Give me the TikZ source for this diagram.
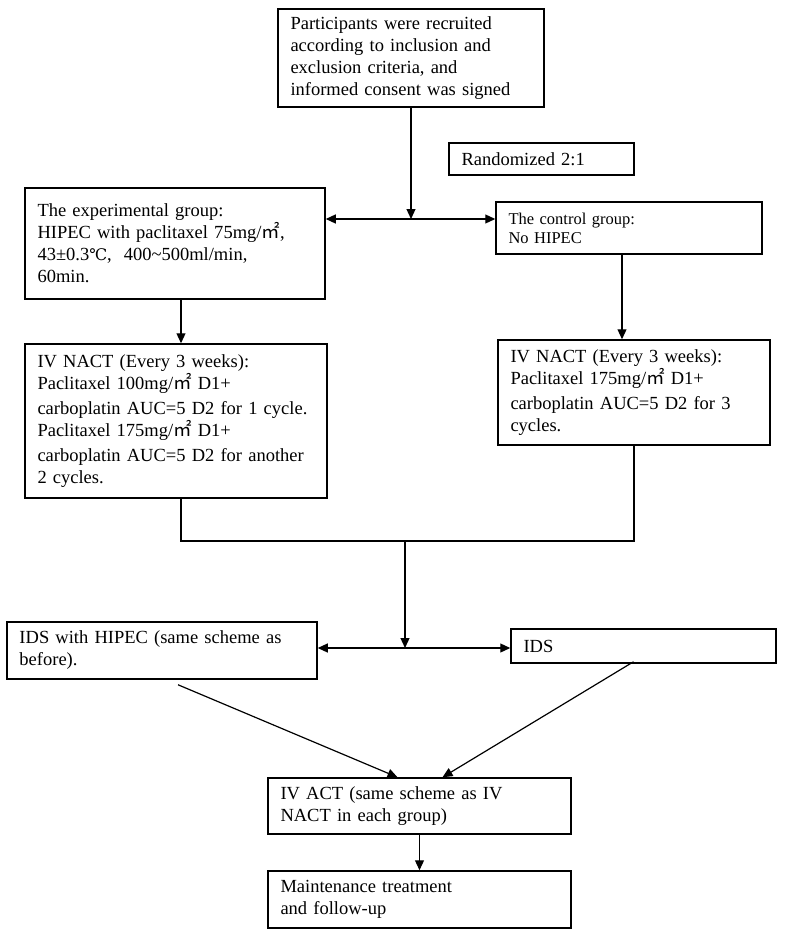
\documentclass[tikz,border=0pt]{standalone}
\usepackage{fontspec}
\setmainfont{Liberation Serif}
\newfontfamily\cjk{Noto Sans CJK SC}
\newfontfamily\symfont{DejaVu Serif}
\usetikzlibrary{calc}
\usetikzlibrary{arrows.meta}
\tikzset{every picture/.style={line width=1.2pt}}
\tikzset{box/.style={draw, rectangle, line width=1.5pt, align=left, inner xsep=12.5pt, inner ysep=0pt, font=\fontsize{18.5}{22}\selectfont},
  small/.style={font=\fontsize{16.5}{19}\selectfont},
  arr/.style={-{Triangle[length=10pt,width=9pt]}},
  darr/.style={{Triangle[length=10pt,width=9pt]}-{Triangle[length=10pt,width=9pt]}}}
\newcommand{\sqm}{{\cjk ㎡}}

\begin{document}
\begin{tikzpicture}[x=1pt,y=1pt,yscale=-1,xscale=1]
\useasboundingbox (0,0) rectangle (784,936);

% Text Node
\node (recruit) at (411,58) [box, text width=241pt, minimum height=98pt] {Participants were recruited\\according to inclusion and\\exclusion criteria, and\\informed consent was signed};
% Text Node
\node (random) at (541.5,159) [box, text width=160pt, minimum height=32pt] {Randomized 2:1};
% Text Node
\node (exp) at (175,243.5) [box, text width=275pt, minimum height=111pt] {The experimental group:\\HIPEC with paclitaxel 75mg/\sqm,\\43±0.3{\symfont\fontsize{16}{22}\selectfont ℃},\hspace{12pt}400\textasciitilde500ml/min,\\60min.};
% Text Node
\node (ctrl) at (629,228) [box, small, text width=241pt, minimum height=52pt] {The control group:\\No HIPEC};
% Text Node
\node (nactL) at (176,421) [box, text width=277pt, minimum height=154pt] {IV NACT (Every 3 weeks):\\Paclitaxel 100mg/\sqm{} D1+\\[3pt]carboplatin AUC=5 D2 for 1 cycle.\\Paclitaxel 175mg/\sqm{} D1+\\[3pt]carboplatin AUC=5 D2 for another\\2 cycles.};
% Text Node
\node (nactR) at (634,392.5) [box, text width=247pt, minimum height=105pt] {IV NACT (Every 3 weeks):\\Paclitaxel 175mg/\sqm{} D1+\\[3pt]carboplatin AUC=5 D2 for 3\\cycles.};
% Text Node
\node (idsH) at (162,650.5) [box, text width=285pt, minimum height=57pt] {IDS with HIPEC (same scheme as\\before).};
% Text Node
\node (ids) at (643.5,646) [box, text width=240pt, minimum height=34pt] {IDS};
% Text Node
\node (act) at (419.5,806) [box, text width=278pt, minimum height=56pt] {IV ACT (same scheme as IV\\NACT in each group)};
% Text Node
\node (maint) at (419.5,899.5) [box, text width=278pt, minimum height=57pt] {Maintenance treatment\\and follow-up};

%Straight Lines
\coordinate (split) at (411,219);
\draw[arr] (recruit) -- (split);
\draw[darr] (split -| exp.east) -- (split -| ctrl.west);
%Straight Lines
\coordinate (eL) at ($(exp.south)+(6,0)$);
\draw[arr] (eL) -- (eL |- nactL.north);
\coordinate (cR) at ($(ctrl.south)+(-7,0)$);
\draw[arr] (cR) -- (cR |- nactR.north);
%Straight Lines
\coordinate (join) at (405,541);
\coordinate (nL) at ($(nactL.south)+(5,0)$);
\draw (nL) |- (join) -| (nactR.south);
\coordinate (split2) at (405,648);
\draw[arr] (join) -- (split2);
\draw[darr] (split2 -| idsH.east) -- (split2 -| ids.west);
%Straight Lines
\draw[arr] ($(idsH.south)+(16,5)$) -- ($(act.north)+(-22,0)$);
\draw[arr] ($(ids.south)+(-10,-2)$) -- ($(act.north)+(23,0)$);
\draw[arr] (act) -- (maint);

\end{tikzpicture}
\end{document}
